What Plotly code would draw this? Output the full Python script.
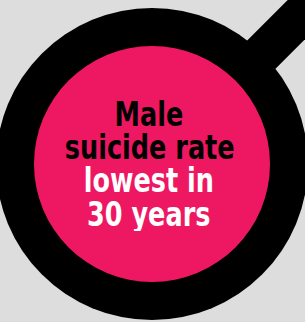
import math
import plotly.graph_objects as go

# Text content
lines = ["Male", "suicide rate", "lowest in", "30 years"]
line_colors = ["#000000", "#000000", "#ffffff", "#ffffff"]
line_y = [114, 147, 180, 214]

W, H = 305, 322
cx, cy = 152, 164
r_outer, r_inner = 156, 118
handle_half = 20

fig = go.Figure()

# handle along 45deg line through centre towards upper-right
ux, uy = 1 / math.sqrt(2), -1 / math.sqrt(2)
px, py = 1 / math.sqrt(2), 1 / math.sqrt(2)
L = 300
p1 = (cx + px * handle_half, cy + py * handle_half)
p2 = (cx - px * handle_half, cy - py * handle_half)
p3 = (p2[0] + ux * L, p2[1] + uy * L)
p4 = (p1[0] + ux * L, p1[1] + uy * L)
path = "M {} {} L {} {} L {} {} L {} {} Z".format(*p1, *p2, *p3, *p4)

shapes = [
    dict(type="path", path=path, fillcolor="#000000", line=dict(width=0), xref="x", yref="y"),
    dict(type="circle", x0=cx - r_outer, x1=cx + r_outer, y0=cy - r_outer, y1=cy + r_outer,
         fillcolor="#000000", line=dict(width=0), xref="x", yref="y"),
    dict(type="circle", x0=cx - r_inner, x1=cx + r_inner, y0=cy - r_inner, y1=cy + r_inner,
         fillcolor="#ee1761", line=dict(width=0), xref="x", yref="y"),
]

annotations = []
for t, c, y in zip(lines, line_colors, line_y):
    annotations.append(dict(x=149, y=y, xref="x", yref="y", text="<b>%s</b>" % t, showarrow=False,
                            font=dict(family="DejaVu Sans Condensed, sans-serif",
                                      size=33, color=c),
                            height=33, valign="middle", borderpad=0,
                            xanchor="center", yanchor="middle"))

fig.update_layout(
    width=W, height=H,
    margin=dict(l=0, r=0, t=0, b=0),
    paper_bgcolor="#dddddd", plot_bgcolor="#dddddd",
    xaxis=dict(range=[0, W], visible=False, fixedrange=True),
    yaxis=dict(range=[H, 0], visible=False, fixedrange=True),
    shapes=shapes, annotations=annotations, showlegend=False,
)

post = """
document.body.style.margin='0';
document.body.style.background='#dddddd';
(function(){
  var gd = document.getElementById('{plot_id}');
  function squeeze(){
    gd.querySelectorAll('text.annotation-text').forEach(function(el){
      el.style.transformBox='fill-box';
      el.style.transformOrigin='center';
      el.style.transform='scaleX(0.86)';
    });
  }
  squeeze();
  setTimeout(squeeze, 0);
  if (gd.on) gd.on('plotly_afterplot', squeeze);
})();
"""
fig.write_html("out.html", config={"displayModeBar": False}, post_script=post)
